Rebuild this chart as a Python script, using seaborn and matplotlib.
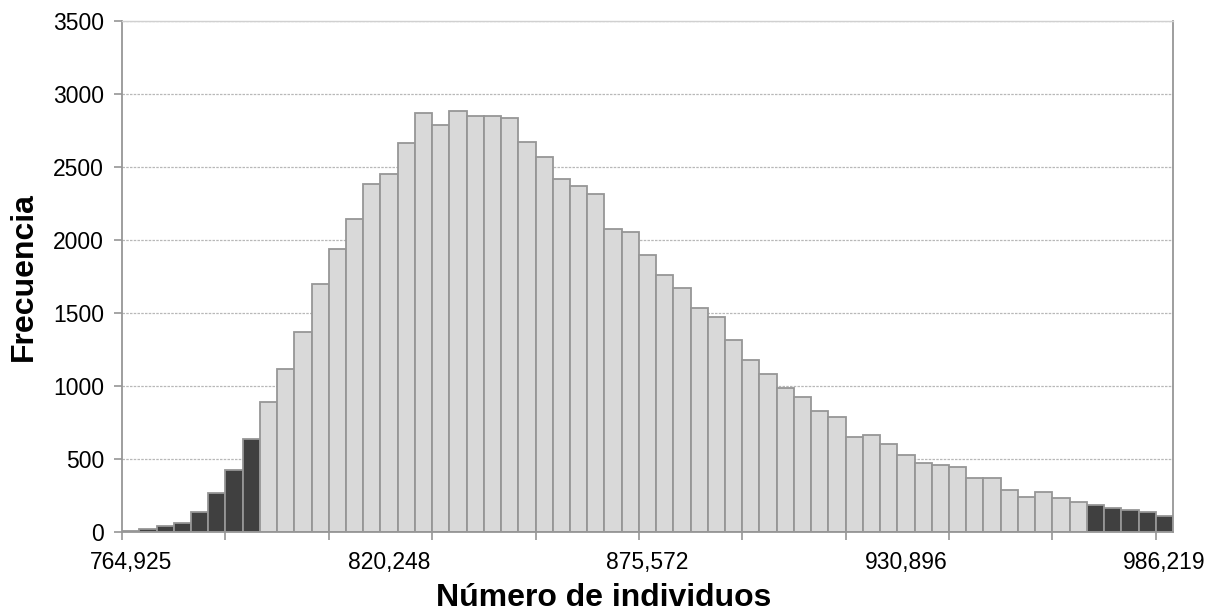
import numpy as np
import pandas as pd
import matplotlib
matplotlib.use("Agg")
import matplotlib.pyplot as plt
import seaborn as sns

# frequencies, 61 classes left to right
frecuencia = [10, 20, 40, 65, 137, 265, 425, 635, 892, 1116,
              1370, 1697, 1936, 2142, 2381, 2450, 2667, 2872, 2788, 2881,
              2849, 2849, 2833, 2669, 2566, 2418, 2372, 2313, 2075, 2057,
              1895, 1762, 1671, 1534, 1470, 1315, 1178, 1080, 988, 927,
              829, 790, 653, 662, 600, 527, 475, 461, 447, 370,
              370, 288, 242, 272, 231, 205, 185, 166, 151, 139,
              107]
# classes in the tails (dark bars)
n_cola_izq = 8
n_cola_der = 5

etiquetas_x = ["764,925", "820,248", "875,572", "930,896", "986,219"]
pos_etiquetas = [0, 15, 30, 45, 60]

n = len(frecuencia)
grupo = ["cola" if (i < n_cola_izq or i >= n - n_cola_der) else "centro" for i in range(n)]
df = pd.DataFrame({"clase": np.arange(n), "freq": frecuencia, "grupo": grupo})

sns.set_style("white")
plt.rcParams["font.family"] = ["Liberation Sans", "DejaVu Sans"]
plt.rcParams["text.color"] = "black"
plt.rcParams["axes.labelcolor"] = "black"

fig = plt.figure(figsize=(12.12, 6.13), dpi=100)
ax = fig.add_axes([0.1007, 0.1321, 0.8671, 0.8336])

sns.barplot(data=df, x="clase", y="freq", hue="grupo",
            palette={"centro": "#d9d9d9", "cola": "#404040"},
            dodge=False, width=1.0, edgecolor="#969696", linewidth=1.3,
            legend=False, ax=ax, zorder=2)

ax.set_xlim(-0.5, n - 0.5)
ax.set_ylim(0, 3500)
ax.set_yticks(np.arange(0, 3501, 500))
ax.yaxis.grid(True, linestyle=(0, (2, 1)), color="#b8b8b8", linewidth=0.9, zorder=0)
ax.set_axisbelow(True)

ax.set_xticks(pos_etiquetas)
ax.set_xticklabels(etiquetas_x)
ax.set_xticks(np.arange(-0.5, n, 6), minor=True)
ax.tick_params(axis="x", which="major", length=0, pad=14, labelsize=16.5, labelcolor="black")
ax.tick_params(axis="x", which="minor", length=6, width=1.2, color="#969696", direction="out", bottom=True)
ax.tick_params(axis="y", which="major", length=6, width=1.2, color="#969696", direction="out",
               left=True, labelsize=16.5, pad=7, labelcolor="black")

for s in ["left", "bottom", "right"]:
    ax.spines[s].set_color("#969696")
    ax.spines[s].set_linewidth(1.3)
ax.spines["top"].set_color("#d0d0d0")
ax.spines["top"].set_linewidth(1.0)

ax.set_xlabel("Número de individuos", fontsize=23, fontweight="bold")
ax.set_ylabel("Frecuencia", fontsize=23, fontweight="bold")
ax.xaxis.set_label_coords(0.4586, -0.1)
ax.yaxis.set_label_coords(-0.079, 0.5)

fig.savefig("out.png", dpi=100)
